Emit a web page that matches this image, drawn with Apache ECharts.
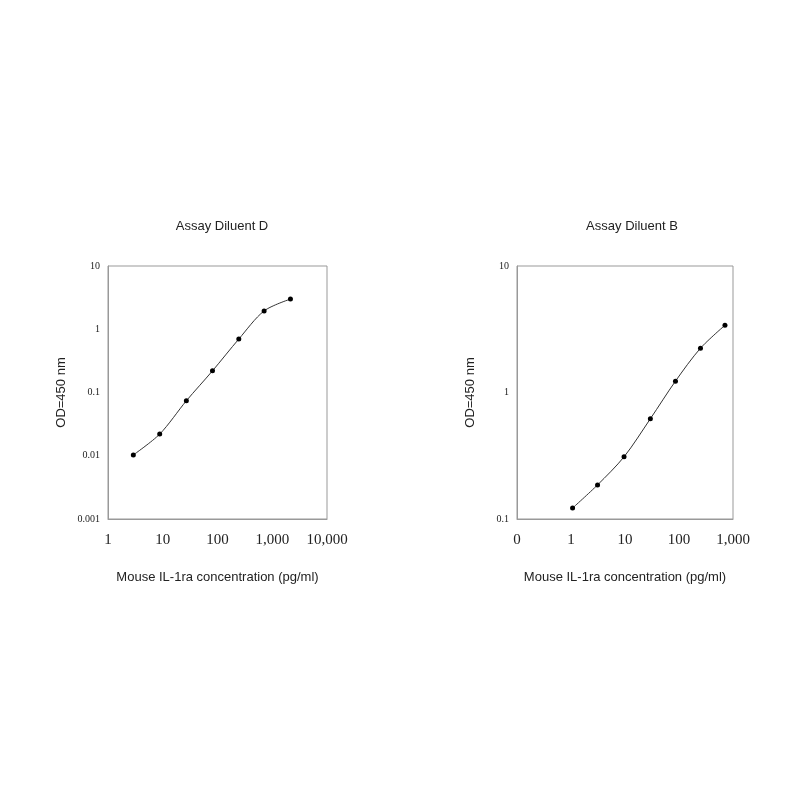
<!DOCTYPE html>
<html><head><meta charset="utf-8">
<script src="https://cdn.jsdelivr.net/npm/echarts@6/dist/echarts.min.js"></script>
<style>html,body{margin:0;background:#fff}#c{width:800px;height:800px}</style>
</head><body><div id="c"></div>
<script>
const leftTitle = 'Assay Diluent D';
const rightTitle = 'Assay Diluent B';
const xName = 'Mouse IL-1ra concentration (pg/ml)';
const yName = 'OD=450 nm';
const leftX = [2.9, 8.8, 27, 81, 245, 710, 2150];
const leftY = [0.0103, 0.022, 0.074, 0.22, 0.7, 1.95, 3.0];
const rightX = [1.07, 3.1, 9.6, 29.5, 86, 250, 710];
const rightY = [0.122, 0.186, 0.31, 0.62, 1.23, 2.24, 3.4];

const fmtNum = v => {
  if (v >= 1) return Math.round(v).toLocaleString('en-US');
  return String(+v.toPrecision(1));
};
const chart = echarts.init(document.getElementById('c'));
const serif = 'Liberation Serif';
const sans = 'Liberation Sans';
function xAxis(i, min, max, zeroFirst){
  return {type:'log', gridIndex:i, min, max, logBase:10,
    name:xName, nameLocation:'middle', nameGap:52,
    nameTextStyle:{fontFamily:sans, fontSize:13, color:'#222'},
    axisLine:{lineStyle:{color:'#999'}}, axisTick:{show:false}, splitLine:{show:false},
    axisLabel:{fontFamily:serif, fontSize:15, color:'#222', margin:14,
      formatter: v => (zeroFirst && v < 0.5) ? '0' : fmtNum(v)}};
}
function yAxis(i, min, max){
  return {type:'log', gridIndex:i, min, max, logBase:10,
    name:yName, nameLocation:'middle', nameGap:40,
    nameTextStyle:{fontFamily:sans, fontSize:13, color:'#222'},
    axisLine:{lineStyle:{color:'#999'}}, axisTick:{show:false}, splitLine:{show:false},
    axisLabel:{fontFamily:serif, fontSize:10, color:'#222', formatter: v => fmtNum(v)}};
}
const zip = (a,b) => a.map((x,i)=>[x,b[i]]);
chart.setOption({
  animation:false,
  title:[
    {text:leftTitle, left:217, top:215, textAlign:'center', textStyle:{fontFamily:sans, fontSize:13, fontWeight:'normal', color:'#222'}},
    {text:rightTitle, left:627, top:215, textAlign:'center', textStyle:{fontFamily:sans, fontSize:13, fontWeight:'normal', color:'#222'}}
  ],
  grid:[
    {left:108, top:266, width:219, height:253, show:true, borderColor:'#999', borderWidth:1},
    {left:517, top:266, width:216, height:253, show:true, borderColor:'#999', borderWidth:1}
  ],
  xAxis:[xAxis(0,1,10000,false), xAxis(1,0.1,1000,true)],
  yAxis:[yAxis(0,0.001,10), yAxis(1,0.1,10)],
  series:[
    {type:'line', xAxisIndex:0, yAxisIndex:0, data:zip(leftX,leftY), smooth:0.3,
      symbol:'circle', symbolSize:5, itemStyle:{color:'#000'}, lineStyle:{color:'#333', width:1}},
    {type:'line', xAxisIndex:1, yAxisIndex:1, data:zip(rightX,rightY), smooth:0.3,
      symbol:'circle', symbolSize:5, itemStyle:{color:'#000'}, lineStyle:{color:'#333', width:1}}
  ]
});
</script></body></html>
